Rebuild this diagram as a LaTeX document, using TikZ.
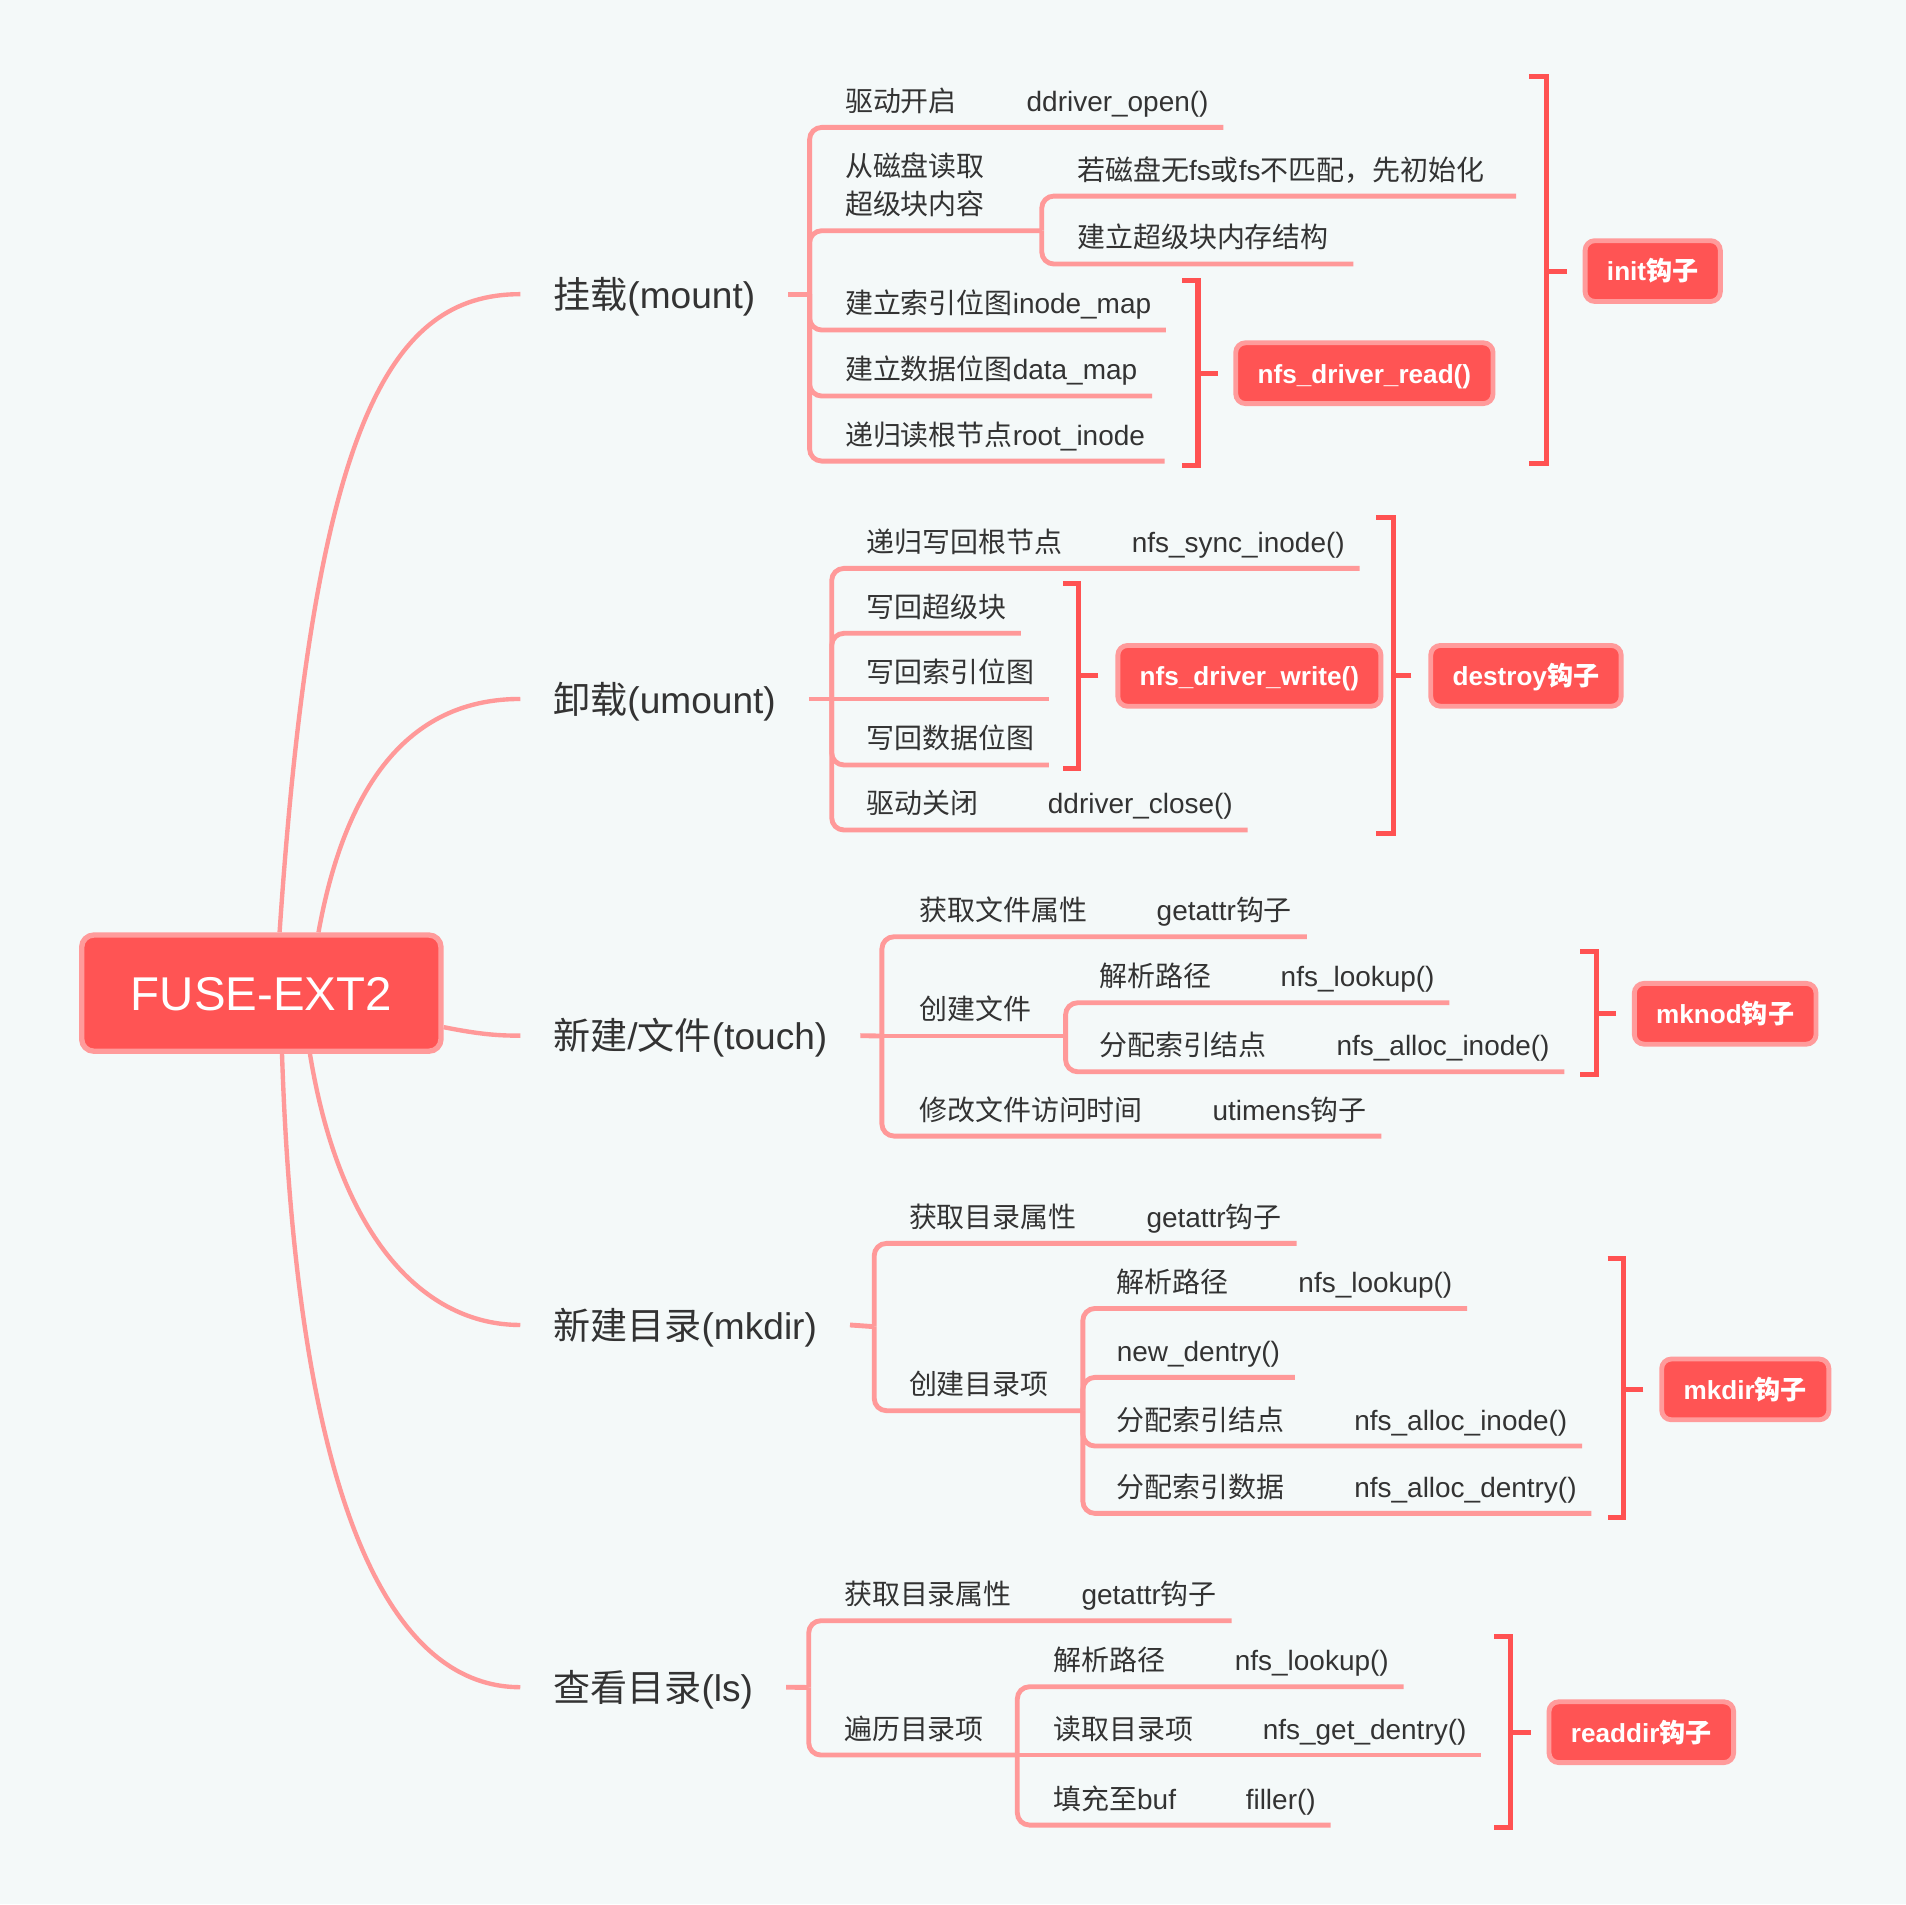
\documentclass[tikz,border=0pt]{standalone}
\usepackage{fontspec}
\setmainfont{Liberation Sans}
\newfontfamily\cjkfont{Noto Sans CJK SC}
\newcommand{\zh}[1]{{\cjkfont #1}}
\usetikzlibrary{positioning}
\definecolor{bgcol}{RGB}{244,249,249}
\definecolor{linecol}{RGB}{255,153,153}
\definecolor{brkcol}{RGB}{255,82,82}
\definecolor{hookfill}{RGB}{255,84,84}
\definecolor{hookline}{RGB}{255,155,155}
\definecolor{txtcol}{RGB}{51,51,51}
\tikzset{
txt/.style={inner sep=0pt, text=txtcol, font=\fontsize{23}{23}\selectfont},
leaf/.style={txt, anchor=south west, text height=17.5pt, text depth=13pt},
topic/.style={txt, font=\fontsize{30.5}{30.5}\selectfont, anchor=west,
    inner xsep=27pt, text height=23.2pt, text depth=0pt},
rootbox/.style={fill=hookfill, draw=hookline, line width=4.4pt, rounded corners=10pt,
    minimum width=295.6pt, minimum height=95.6pt, inner sep=0pt, text=white,
    font=\fontsize{39}{39}\selectfont, text height=27.9pt, text depth=0pt},
hook/.style={fill=hookfill, draw=hookline, line width=4pt, rounded corners=8pt,
    anchor=west, text=white, font=\fontsize{21.5}{21.5}\selectfont\bfseries,
    inner xsep=18pt, inner ysep=0pt, minimum height=50pt,
    text height=16.3pt, text depth=0pt},
branch/.style={draw=linecol, line width=4pt, rounded corners=10pt},
curve/.style={draw=linecol, line width=3.6pt},
bracket/.style={draw=brkcol, line width=4.2pt},
}

\begin{document}
\begin{tikzpicture}[x=1pt, y=-1pt]
\fill[bgcol] (0,0) rectangle (1568,1566.4);

% root and first level
\node[rootbox] (root) at (215,817) {FUSE-EXT2};
\node[topic] (mount) at (428,242) {\zh{挂载}(mount)};
\node[topic] (umount) at (428,575) {\zh{卸载}(umount)};
\node[topic] (touch) at (428,852) {\zh{新建}/\zh{文件}(touch)};
\node[topic] (mkdir) at (428,1090) {\zh{新建目录}(mkdir)};
\node[topic] (ls) at (428,1388) {\zh{查看目录}(ls)};

\draw[curve] ([xshift=15pt]root.north) .. controls (258,350) and (320,242) .. (mount.west);
\draw[curve] ([xshift=47pt]root.north) .. controls (285,640) and (340,575) .. (umount.west);
\draw[curve] ([yshift=-28pt]root.east) .. controls (395,851) and (410,852) .. (touch.west);
\draw[curve] ([xshift=40pt]root.south) .. controls (280,1020) and (350,1090) .. (mkdir.west);
\draw[curve] ([xshift=17pt]root.south) .. controls (245,1260) and (330,1388) .. (ls.west);

% mount
\node[leaf] (m1a) at (695,104.8) {\zh{驱动开启}};
\node[leaf, right=57pt of m1a] (m1b) {ddriver\_open()};
\node[txt, anchor=west, align=left, font=\fontsize{23}{31}\selectfont] (m2) at (695,151.9)
    {\zh{从磁盘读取}\\\zh{超级块内容}};
\node[leaf] (m2a) at (886,161.3) {\zh{若磁盘无}fs\zh{或}fs\zh{不匹配，先初始化}};
\node[leaf] (m2b) at (886,217.2) {\zh{建立超级块内存结构}};
\node[leaf] (m3) at (695,271.5) {\zh{建立索引位图}inode\_map};
\node[leaf] (m4) at (695,325.8) {\zh{建立数据位图}data\_map};
\node[leaf] (m5) at (695,379.3) {\zh{递归读根节点}root\_inode};
\coordinate (mj) at (666,242);
\coordinate (m2j) at (857,189.8);
\draw[branch] (mount.east) -- (mj);
\draw[branch] (mj) |- ([xshift=12pt]m1b.south east);
\draw[branch] (mj) |- (m2j);
\draw[branch] (m2j) |- ([xshift=26pt]m2a.south east);
\draw[branch] (m2j) |- ([xshift=20pt]m2b.south east);
\draw[branch] (mj) |- ([xshift=12pt]m3.south east);
\draw[branch] (mj) |- ([xshift=12pt]m4.south east);
\draw[branch] (mj) |- ([xshift=16pt]m5.south east);

\node[hook] (read) at (1014.6,307) {nfs\_driver\_read()};
\draw[bracket] (972.7,230.4) -- (985.5,230.4) -- (985.5,382.6) -- (972.7,382.6);
\draw[bracket] ([xshift=-13pt]read.west) -- +(-15,0);
\node[hook] (init) at (1302,223) {init\zh{钩子}};
\draw[bracket] (1258,63) -- (1272,63) -- (1272,381) -- (1258,381);
\draw[bracket] ([xshift=-13pt]init.west) -- +(-15,0);

% umount
\node[leaf] (u1a) at (712.5,467.6) {\zh{递归写回根节点}};
\node[leaf, right=57pt of u1a] (u1b) {nfs\_sync\_inode()};
\node[leaf] (u2) at (712.5,521) {\zh{写回超级块}};
\node[leaf] (u3) at (712.5,575) {\zh{写回索引位图}};
\node[leaf] (u4) at (712.5,629.3) {\zh{写回数据位图}};
\node[leaf] (u5a) at (712.5,682.8) {\zh{驱动关闭}};
\node[leaf, right=57pt of u5a] (u5b) {ddriver\_close()};
\coordinate (uj) at (684.2,575);
\draw[branch] (umount.east) -- (uj);
\draw[branch] (uj) |- ([xshift=12pt]u1b.south east);
\draw[branch] (uj) |- ([xshift=12pt]u2.south east);
\draw[branch] (uj) -- ([xshift=12pt]u3.south east);
\draw[branch] (uj) |- ([xshift=12pt]u4.south east);
\draw[branch] (uj) |- ([xshift=12pt]u5b.south east);

\node[hook] (write) at (917.6,556) {nfs\_driver\_write()};
\draw[bracket] (874.5,480) -- (887.3,480) -- (887.3,632) -- (874.5,632);
\draw[bracket] ([xshift=-14pt]write.west) -- +(-14,0);
\node[hook] (destroy) at (1175,556) {destroy\zh{钩子}};
\draw[bracket] (1132,425.6) -- (1146.1,425.6) -- (1146.1,685.6) -- (1132,685.6);
\draw[bracket] ([xshift=-14pt]destroy.west) -- +(-14,0);

% touch
\node[leaf] (t1a) at (756,770.6) {\zh{获取文件属性}};
\node[leaf, right=57pt of t1a] (t1b) {getattr\zh{钩子}};
\node[leaf] (t2) at (756,852.3) {\zh{创建文件}};
\node[leaf] (t2a) at (904,824.9) {\zh{解析路径}};
\node[leaf, right=57pt of t2a] (t2b) {nfs\_lookup()};
\node[leaf] (t2c) at (904,881.7) {\zh{分配索引结点}};
\node[leaf, right=57pt of t2c] (t2d) {nfs\_alloc\_inode()};
\node[leaf] (t3a) at (756,934.6) {\zh{修改文件访问时间}};
\node[leaf, right=57pt of t3a] (t3b) {utimens\zh{钩子}};
\coordinate (tj) at (725.5,852.3);
\coordinate (t2j) at (876.6,852.3);
\draw[branch] (touch.east) -- (tj);
\draw[branch] (tj) |- ([xshift=12pt]t1b.south east);
\draw[branch] (tj) -- (t2j);
\draw[branch] (t2j) |- ([xshift=12pt]t2b.south east);
\draw[branch] (t2j) |- ([xshift=12pt]t2d.south east);
\draw[branch] (tj) |- ([xshift=12pt]t3b.south east);

\node[hook] (mknod) at (1342.5,834) {mknod\zh{钩子}};
\draw[bracket] (1300,783) -- (1313.2,783) -- (1313.2,883.6) -- (1300,883.6);
\draw[bracket] ([xshift=-13pt]mknod.west) -- +(-15,0);

% mkdir
\node[leaf] (k1a) at (747.6,1022.9) {\zh{获取目录属性}};
\node[leaf, right=57pt of k1a] (k1b) {getattr\zh{钩子}};
\node[leaf] (k2) at (747.6,1160.5) {\zh{创建目录项}};
\node[leaf] (k2a) at (918.6,1076.4) {\zh{解析路径}};
\node[leaf, right=57pt of k2a] (k2b) {nfs\_lookup()};
\node[leaf] (k2c) at (918.6,1133.1) {new\_dentry()};
\node[leaf] (k2d) at (918.6,1189.6) {\zh{分配索引结点}};
\node[leaf, right=57pt of k2d] (k2e) {nfs\_alloc\_inode()};
\node[leaf] (k2f) at (918.6,1245) {\zh{分配索引数据}};
\node[leaf, right=57pt of k2f] (k2g) {nfs\_alloc\_dentry()};
\coordinate (kj) at (719.2,1091.4);
\coordinate (k2j) at (890.8,1160.5);
\draw[branch] (mkdir.east) -- (kj);
\draw[branch] (kj) |- ([xshift=12pt]k1b.south east);
\draw[branch] (kj) |- (k2j);
\draw[branch] (k2j) |- ([xshift=12pt]k2b.south east);
\draw[branch] (k2j) |- ([xshift=12pt]k2c.south east);
\draw[branch] (k2j) |- ([xshift=12pt]k2e.south east);
\draw[branch] (k2j) |- ([xshift=12pt]k2g.south east);

\node[hook] (mkdirh) at (1365,1143) {mkdir\zh{钩子}};
\draw[bracket] (1322.6,1035.2) -- (1335.8,1035.2) -- (1335.8,1248.3) -- (1322.6,1248.3);
\draw[bracket] ([xshift=-13pt]mkdirh.west) -- +(-15,0);

% ls
\node[leaf] (l1a) at (694.2,1333.3) {\zh{获取目录属性}};
\node[leaf, right=57pt of l1a] (l1b) {getattr\zh{钩子}};
\node[leaf] (l2) at (694.2,1443.8) {\zh{遍历目录项}};
\node[leaf] (l2a) at (866.3,1387.6) {\zh{解析路径}};
\node[leaf, right=57pt of l2a] (l2b) {nfs\_lookup()};
\node[leaf] (l2c) at (866.3,1443.8) {\zh{读取目录项}};
\node[leaf, right=57pt of l2c] (l2d) {nfs\_get\_dentry()};
\node[leaf] (l2e) at (866.3,1501.4) {\zh{填充至}buf};
\node[leaf, right=57pt of l2e] (l2f) {filler()};
\coordinate (lj) at (665.3,1388.2);
\coordinate (l2j) at (836.9,1443.8);
\draw[branch] (ls.east) -- (lj);
\draw[branch] (lj) |- ([xshift=12pt]l1b.south east);
\draw[branch] (lj) |- (l2j);
\draw[branch] (l2j) |- ([xshift=12pt]l2b.south east);
\draw[branch] (l2j) -- ([xshift=12pt]l2d.south east);
\draw[branch] (l2j) |- ([xshift=12pt]l2f.south east);

\node[hook] (readdir) at (1272.3,1425) {readdir\zh{钩子}};
\draw[bracket] (1229.4,1346.5) -- (1242.5,1346.5) -- (1242.5,1503.3) -- (1229.4,1503.3);
\draw[bracket] ([xshift=-13pt]readdir.west) -- +(-15,0);

\end{tikzpicture}
\end{document}
